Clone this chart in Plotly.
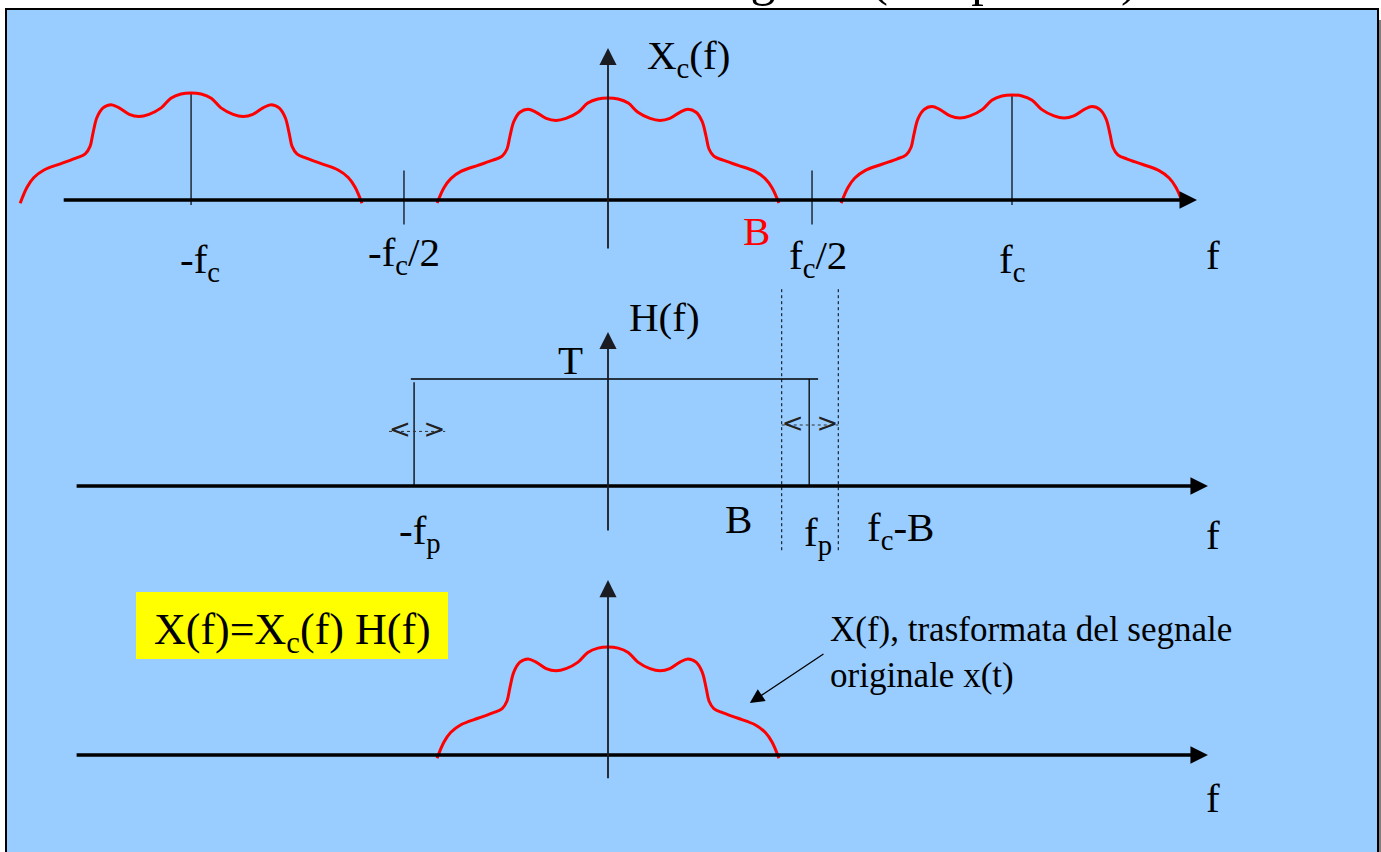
import plotly.graph_objects as go

W, H = 1381, 852

# ---------------- data (normalized frequency, fc = 1) ----------------
fc = 1.0
B = 0.43
T = 1.0
# half profile of the baseband spectrum (frequency, amplitude)
half_f = [0.0, 0.025, 0.050, 0.074, 0.104, 0.129, 0.153, 0.178, 0.198, 0.218,
          0.233, 0.243, 0.250, 0.262, 0.285, 0.322, 0.364, 0.389, 0.406, 0.423]
half_a = [1.0, 0.99, 0.95, 0.86, 0.80, 0.78, 0.80, 0.86, 0.89, 0.86,
          0.77, 0.62, 0.50, 0.43, 0.39, 0.34, 0.28, 0.21, 0.12, -0.03]
copy_centers = [-1.032, 0.0, 1.0]       # replicas of the sampled spectrum
copy_gains = [1.05, 1.0, 1.03]
half_ticks = [-0.505, 0.505]            # -fc/2, fc/2
H_edges = [-0.48, 0.498]                # -fp, fp
H_top = [-0.488, 0.52]
guide_f = [B, fc - B]                   # dotted guides B and fc-B
left_span = [-0.542, -0.403]            # double arrows (transition ranges)
right_span = [B, fc - B]

# ---------------- geometry of the drawing ----------------
X0_PX, PX_PER_UNIT = 608, 404
xr = [-X0_PX / PX_PER_UNIT, (W - X0_PX) / PX_PER_UNIT]

def yrange(base_px, px_per_unit):
    return [-(H - base_px) / px_per_unit, base_px / px_per_unit]

spec_f = [-v for v in half_f[:0:-1]] + half_f
spec_a = half_a[:0:-1] + half_a

RED = "#FF0000"
BLK = "#000000"
AX = "#1b1b22"
SERIF = "Liberation Serif"

fig = go.Figure()

def line(x, y, ya, color=BLK, width=1.3, dash=None, shape="linear"):
    fig.add_trace(go.Scatter(
        x=x, y=y, yaxis=ya, mode="lines",
        line=dict(color=color, width=width, dash=dash, shape=shape, smoothing=1.0),
        hoverinfo="skip", showlegend=False, cliponaxis=False))

def axis_arrow(x0, y0, x1, y1, yref, width, size):
    fig.add_annotation(x=x1, y=y1, ax=x0, ay=y0, xref="x", yref=yref, axref="x", ayref=yref,
                       text="", showarrow=True, arrowhead=2, arrowsize=size,
                       arrowwidth=width, arrowcolor=BLK if width > 3 else AX)

# ---- top panel: Xc(f) ----
axis_arrow(-1.351, 0, 1.458, 0, "y", 3.5, 1.0)
axis_arrow(0, -0.49, 0, 1.49, "y", 1.8, 1.9)
line([copy_centers[0]] * 2, [-0.05, 1.06], "y", width=1.2)
line([copy_centers[2]] * 2, [-0.05, 1.03], "y", width=1.2)
for t in half_ticks:
    line([t, t], [0.29, -0.24], "y", width=1.2)
for c, g in zip(copy_centers, copy_gains):
    line([c + f for f in spec_f], [g * a for a in spec_a], "y", color=RED, width=3, shape="spline")

# ---- middle panel: H(f) ----
axis_arrow(-1.319, 0, 1.485, 0, "y2", 3.5, 1.0)
axis_arrow(0, -0.43, 0, 1.44, "y2", 1.8, 1.9)
line(H_top, [T, T], "y2", width=1.3)
line([H_edges[0]] * 2, [0, T * 0.97], "y2", width=1.3)
line([H_edges[1]] * 2, [0, T], "y2", width=1.3)
for g in guide_f:
    line([g, g], [-0.6, 1.85], "y2", width=1, dash="dot")
for span, yy in ((left_span, 0.51), (right_span, 0.57)):
    line(span, [yy, yy], "y2", width=1, dash="dot", color="#333")
    fig.add_trace(go.Scatter(
        x=span, y=[yy, yy], yaxis="y2", mode="text", text=["<", ">"],
        textposition=["middle right", "middle left"],
        textfont=dict(family="DejaVu Sans", size=26, color="#222"),
        hoverinfo="skip", showlegend=False, cliponaxis=False))

# ---- bottom panel: X(f) ----
axis_arrow(-1.319, 0, 1.485, 0, "y3", 3.5, 1.0)
axis_arrow(0, -0.23, 0, 1.62, "y3", 1.8, 1.9)
line(spec_f, spec_a, "y3", color=RED, width=3, shape="spline")

# ---------------- layout ----------------
def ax(r, **kw):
    return dict(range=r, visible=False, fixedrange=True, **kw)

fig.update_layout(
    width=W, height=H, margin=dict(l=0, r=0, t=0, b=0),
    paper_bgcolor="white", plot_bgcolor="rgba(0,0,0,0)",
    xaxis=ax(xr),
    yaxis=ax(yrange(200, 102)),
    yaxis2=ax(yrange(486, 107), overlaying="y"),
    yaxis3=ax(yrange(755, 108), overlaying="y"),
    showlegend=False,
)

def P(x, y):
    return x / W, 1 - y / H

# background panel + shadow
fig.add_shape(type="rect", xref="paper", yref="paper", x0=1378 / W, x1=1.0, y0=-0.02,
              y1=1 - 20 / H, fillcolor="#808080", line_width=0, layer="below")
fig.add_shape(type="rect", xref="paper", yref="paper", x0=6 / W, x1=1378 / W, y0=-0.05,
              y1=1 - 9 / H, fillcolor="#99CCFF", line=dict(color="black", width=2), layer="below")
# yellow formula box
fig.add_shape(type="rect", xref="paper", yref="paper", x0=136 / W, x1=448 / W,
              y0=1 - 659 / H, y1=1 - 592 / H, fillcolor="#FFFF00", line_width=0, layer="below")

def label(text, x, y, size=41, color=BLK, xanchor="center", align="center"):
    px_, py_ = P(x, y)
    fig.add_annotation(x=px_, y=py_, xref="paper", yref="paper", text=text, showarrow=False,
                       xanchor=xanchor, yanchor="middle", align=align,
                       font=dict(family=SERIF, size=size, color=color))

label("X<sub>c</sub>(f)", 688, 58)
label("-f<sub>c</sub>", 200, 262)
label("-f<sub>c</sub>/2", 404, 255)
label("B", 756, 231, color=RED)
label("f<sub>c</sub>/2", 818, 258)
label("f<sub>c</sub>", 1012, 262)
label("f", 1213, 255)
label("H(f)", 664, 317)
label("T", 570, 360)
label("-f<sub>p</sub>", 420, 533)
label("B", 738, 519)
label("f<sub>p</sub>", 818, 535)
label("f<sub>c</sub>-B", 900, 530)
label("f", 1213, 535)
label("f", 1213, 798)
label("X(f)=X<sub>c</sub>(f) H(f)", 292, 632, size=44)
label("X(f), trasformata del segnale<br>originale x(t)", 828, 652, size=35,
      xanchor="left", align="left")

# arrow pointing at X(f)
fig.add_annotation(x=0.351, y=0.481, xref="x", yref="y3", ax=0.537, ay=0.944,
                   axref="x", ayref="y3", text="", showarrow=True, arrowhead=2,
                   arrowsize=2.2, arrowwidth=1.3, arrowcolor="black")

# cut-off slide title
tx, ty = P(1140, 8)
fig.add_annotation(x=tx, y=ty, xref="paper", yref="paper", text="Ricostruzione del segnale (campionato)",
                   showarrow=False, xanchor="right", yanchor="bottom",
                   font=dict(family=SERIF, size=50, color="black"))

fig.write_html("out.html", config={"displayModeBar": False},
               post_script="document.body.style.margin='0px';document.body.style.overflow='hidden';")
